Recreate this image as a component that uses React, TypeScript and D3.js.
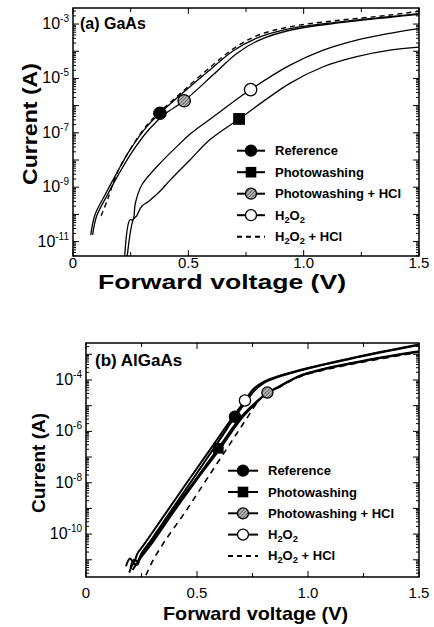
import { useEffect, useRef } from "react";
import * as d3 from "d3";

// points are [forward voltage (V), log10 of current (A)]
const gaasReference = [[0.077, -10.76], [0.095, -10.02], [0.139, -9.28], [0.189, -8.49], [0.247, -7.63], [0.319, -6.78], [0.377, -6.28], [0.464, -5.62], [0.594, -4.68], [0.695, -3.98], [0.796, -3.52], [0.94, -3.17], [1.157, -2.92], [1.374, -2.73], [1.5, -2.62]];
const gaasPhotowashing = [[0.233, -11.7], [0.262, -10.18], [0.276, -10.05], [0.298, -9.7], [0.327, -9.53], [0.377, -9.15], [0.42, -8.75], [0.507, -8.0], [0.594, -7.25], [0.72, -6.49], [0.94, -5.18], [1.085, -4.57], [1.23, -4.2], [1.374, -3.96], [1.5, -3.85]];
const gaasPhotowashingHCl = [[0.085, -10.75], [0.103, -10.05], [0.148, -9.3], [0.198, -8.52], [0.258, -7.68], [0.332, -6.85], [0.4, -6.3], [0.482, -5.82], [0.61, -4.85], [0.71, -4.08], [0.81, -3.58], [0.95, -3.21], [1.16, -2.95], [1.374, -2.75], [1.5, -2.64]];
const gaasH2O2 = [[0.223, -11.7], [0.247, -10.2], [0.26, -10.2], [0.27, -9.6], [0.298, -8.92], [0.363, -8.25], [0.464, -7.39], [0.507, -7.05], [0.594, -6.5], [0.77, -5.41], [0.941, -4.51], [1.085, -3.96], [1.23, -3.59], [1.374, -3.34], [1.5, -3.17]];
const gaasH2O2HCl = [[0.122, -10.05], [0.15, -9.45], [0.19, -8.5], [0.25, -7.58], [0.32, -6.72], [0.38, -6.2], [0.47, -5.52], [0.6, -4.55], [0.7, -3.88], [0.8, -3.42], [0.94, -3.1], [1.157, -2.86], [1.374, -2.67], [1.5, -2.53]];
// one symbol on each curve
const gaasMarkers = [[0.377, -6.28], [0.72, -6.49], [0.482, -5.82], [0.77, -5.41]];

const algaasReference = [[0.2, -11.35], [0.215, -11.0], [0.232, -11.05], [0.25, -10.75], [0.3, -10.15], [0.4, -8.88], [0.5, -7.62], [0.6, -6.35], [0.671, -5.43], [0.72, -4.85], [0.76, -4.4], [0.8, -4.12], [0.86, -3.9], [0.964, -3.63], [1.189, -3.18], [1.5, -2.64]];
const algaasPhotowashing = [[0.195, -11.5], [0.215, -11.15], [0.23, -11.2], [0.25, -10.8], [0.3, -10.22], [0.4, -8.97], [0.5, -7.8], [0.596, -6.66], [0.7, -5.42], [0.78, -4.75], [0.817, -4.52], [0.86, -4.32], [0.964, -3.85], [1.189, -3.37], [1.5, -2.9]];
const algaasPhotowashingHCl = [[0.21, -11.4], [0.24, -11.0], [0.3, -10.32], [0.4, -9.07], [0.5, -7.87], [0.6, -6.72], [0.7, -5.5], [0.78, -4.78], [0.817, -4.49], [0.86, -4.3], [0.964, -3.83], [1.189, -3.35], [1.5, -2.88]];
const algaasH2O2 = [[0.18, -11.25], [0.198, -10.95], [0.215, -11.1], [0.232, -10.75], [0.26, -10.42], [0.35, -9.3], [0.45, -8.05], [0.55, -6.82], [0.65, -5.58], [0.716, -4.8], [0.754, -4.35], [0.8, -4.07], [0.859, -3.87], [0.964, -3.61], [1.189, -3.16], [1.5, -2.62]];
const algaasH2O2HCl = [[0.27, -11.6], [0.3, -11.05], [0.353, -10.3], [0.45, -9.1], [0.55, -7.78], [0.65, -6.47], [0.72, -5.55], [0.784, -4.75], [0.83, -4.45], [0.86, -4.33], [0.964, -3.87], [1.189, -3.4], [1.5, -2.92]];
const algaasMarkers = [[0.671, -5.43], [0.596, -6.66], [0.817, -4.49], [0.716, -4.8]];

const seriesNames = ["Reference", "Photowashing", "Photowashing + HCl", "H2O2", "H2O2 + HCl"];
const symbolKinds = ["filled", "square", "hatched", "open", "dash"];
const xTickValues = [0, 0.5, 1.0, 1.5];
const xTickLabels = ["0", "0.5", "1.0", "1.5"];
const gaasYTicks = [-3, -5, -7, -9, -11];
const algaasYTicks = [-4, -6, -8, -10];

const FONT = "'Liberation Sans', Arial, Helvetica, sans-serif";

function addName(text, name, size) {
    // H2O2 gets subscript 2s
    let lowered = false;
    name.split(/(2)/).forEach((p) => {
        if (p === "") return;
        if (p === "2") {
            text.append("tspan").attr("font-size", size * 0.72).attr("dy", lowered ? 0 : 3).text("2");
            lowered = true;
        } else {
            text.append("tspan").attr("dy", lowered ? -3 : 0).text(p);
            lowered = false;
        }
    });
}

function drawSymbol(g, kind, x, y, r) {
    if (kind === "square") {
        g.append("rect").attr("x", x - r).attr("y", y - r).attr("width", 2 * r).attr("height", 2 * r)
            .attr("fill", "#000");
    } else if (kind !== "dash") {
        g.append("circle").attr("cx", x).attr("cy", y).attr("r", r)
            .attr("fill", kind === "filled" ? "#000" : kind === "hatched" ? "url(#hatch)" : "#fff")
            .attr("stroke", "#000").attr("stroke-width", 1.3);
    }
}

function drawPanel(svg, p) {
    const x = d3.scaleLinear().domain([0, 1.5]).range([p.left, p.right]);
    const y = d3.scaleLog().domain([Math.pow(10, p.yMin), Math.pow(10, p.yMax)]).range([p.bottom, p.top]);
    const g = svg.append("g");

    const clipId = "clip-" + p.id;
    g.append("clipPath").attr("id", clipId).append("rect")
        .attr("x", p.left).attr("y", p.top).attr("width", p.right - p.left).attr("height", p.bottom - p.top);

    // ticks on all four sides, pointing in
    const tk = g.append("g").attr("stroke", "#000").attr("stroke-width", 1);
    for (let e = Math.floor(p.yMin); e <= Math.ceil(p.yMax); e++) {
        for (let m = 1; m <= 9; m++) {
            const v = m * Math.pow(10, e);
            if (v < Math.pow(10, p.yMin) || v > Math.pow(10, p.yMax)) continue;
            const len = m === 1 ? 6 : 3;
            const yy = y(v);
            tk.append("line").attr("x1", p.left).attr("x2", p.left + len).attr("y1", yy).attr("y2", yy);
            tk.append("line").attr("x1", p.right).attr("x2", p.right - len).attr("y1", yy).attr("y2", yy);
        }
    }
    d3.range(0, 1.51, 0.25).forEach((v) => {
        const len = Math.abs(v * 2 - Math.round(v * 2)) < 1e-6 ? 6 : 4;
        tk.append("line").attr("x1", x(v)).attr("x2", x(v)).attr("y1", p.bottom).attr("y2", p.bottom - len);
        tk.append("line").attr("x1", x(v)).attr("x2", x(v)).attr("y1", p.top).attr("y2", p.top + len);
    });

    g.append("rect").attr("x", p.left).attr("y", p.top).attr("width", p.right - p.left).attr("height", p.bottom - p.top)
        .attr("fill", "none").attr("stroke", "#000").attr("stroke-width", 1.5);

    // tick labels
    xTickValues.forEach((v, i) => {
        g.append("text").attr("x", x(v)).attr("y", p.bottom + p.xTickDy).attr("text-anchor", "middle")
            .attr("font-family", FONT).attr("font-size", 15).text(xTickLabels[i]);
    });
    p.yTicks.forEach((e) => {
        const t = g.append("text").attr("x", p.left - 4).attr("y", y(Math.pow(10, e)) + 5)
            .attr("text-anchor", "end").attr("font-family", FONT).attr("font-size", 16);
        t.append("tspan").text("10");
        t.append("tspan").attr("font-size", 10).attr("dy", -7).text(String(e));
    });

    // axis titles
    g.append("text").attr("x", (p.left + p.right) / 2 + p.xTitleShift).attr("y", p.xTitleY).attr("text-anchor", "middle")
        .attr("font-family", FONT).attr("font-weight", "bold").attr("font-size", p.titleSize)
        .attr("textLength", p.xTitleLen).attr("lengthAdjust", "spacingAndGlyphs").text("Forward voltage (V)");
    g.append("text").attr("transform", `translate(${p.yTitleX},${p.yTitleMid}) rotate(-90)`).attr("text-anchor", "middle")
        .attr("font-family", FONT).attr("font-weight", "bold").attr("font-size", p.titleSize)
        .attr("textLength", p.yTitleLen).attr("lengthAdjust", "spacingAndGlyphs").text("Current (A)");

    g.append("text").attr("x", p.left + p.tagDx).attr("y", p.top + p.tagDy)
        .attr("font-family", FONT).attr("font-weight", "bold").attr("font-size", p.tagSize).text(p.tag);

    // curves
    const line = d3.line().x((d) => x(d[0])).y((d) => y(Math.pow(10, d[1]))).curve(d3.curveCatmullRom.alpha(0.5));
    const curves = g.append("g").attr("clip-path", `url(#${clipId})`);
    p.series.forEach((s, i) => {
        curves.append("path").attr("d", line(s)).attr("fill", "none").attr("stroke", "#000")
            .attr("stroke-width", i === 4 ? p.dashWidth : p.lineWidth)
            .attr("stroke-dasharray", i === 4 ? p.dash : null);
    });
    p.markers.forEach((m, i) => {
        const r = symbolKinds[i] === "square" ? p.markerR * 0.95 : p.markerR;
        drawSymbol(curves, symbolKinds[i], x(m[0]), y(Math.pow(10, m[1])), r);
    });

    // legend
    const lg = g.append("g");
    seriesNames.forEach((name, i) => {
        const cy = p.legendY + i * p.legendStep;
        lg.append("line").attr("x1", p.legendX).attr("x2", p.legendX + p.legendLen).attr("y1", cy).attr("y2", cy)
            .attr("stroke", "#000").attr("stroke-width", 2)
            .attr("stroke-dasharray", symbolKinds[i] === "dash" ? "5,4" : null);
        drawSymbol(lg, symbolKinds[i], p.legendX + p.legendLen / 2, cy, symbolKinds[i] === "square" ? 5.3 : 5.5);
        const t = lg.append("text").attr("x", p.legendX + p.legendLen + 10).attr("y", cy + 4.5)
            .attr("font-family", FONT).attr("font-weight", "bold").attr("font-size", 13);
        addName(t, name, 13);
    });
}

export default function App() {
    const ref = useRef(null);

    useEffect(() => {
        const svg = d3.select(ref.current);
        svg.selectAll("*").remove();

        const defs = svg.append("defs");
        const pat = defs.append("pattern").attr("id", "hatch").attr("patternUnits", "userSpaceOnUse")
            .attr("width", 2.5).attr("height", 2.5).attr("patternTransform", "rotate(45)");
        pat.append("rect").attr("width", 2.5).attr("height", 2.5).attr("fill", "#b0b0b0");
        pat.append("line").attr("x1", 0).attr("x2", 0).attr("y1", 0).attr("y2", 2.5)
            .attr("stroke", "#333").attr("stroke-width", 1);

        drawPanel(svg, {
            id: "a", tag: "(a) GaAs", left: 73, right: 419, top: 8, bottom: 256,
            yMin: -11.53, yMax: -2.41, yTicks: gaasYTicks,
            series: [gaasReference, gaasPhotowashing, gaasPhotowashingHCl, gaasH2O2, gaasH2O2HCl],
            markers: gaasMarkers, markerR: 6.2, lineWidth: 1.3, dashWidth: 1.4, dash: "5,4",
            xTickDy: 12, xTitleY: 289, xTitleShift: -24, xTitleLen: 248, titleSize: 21,
            yTitleX: 37, yTitleMid: 124, yTitleLen: 122,
            tagDx: 7, tagDy: 21, tagSize: 16,
            legendX: 237, legendLen: 28, legendY: 150.7, legendStep: 21.5,
        });
        drawPanel(svg, {
            id: "b", tag: "(b) AlGaAs", left: 86, right: 419, top: 343, bottom: 577,
            yMin: -11.67, yMax: -2.56, yTicks: algaasYTicks,
            series: [algaasReference, algaasPhotowashing, algaasPhotowashingHCl, algaasH2O2, algaasH2O2HCl],
            markers: algaasMarkers, markerR: 5.6, lineWidth: 2, dashWidth: 1.6, dash: "6,5",
            xTickDy: 21, xTitleY: 620, xTitleShift: 3, xTitleLen: 185, titleSize: 19,
            yTitleX: 45, yTitleMid: 463, yTitleLen: 100,
            tagDx: 9, tagDy: 23, tagSize: 17,
            legendX: 228, legendLen: 30, legendY: 470.7, legendStep: 21.3,
        });
    }, []);

    return (
        <svg ref={ref} width={434} height={627}
            style={{ position: "absolute", left: 0, top: 0, background: "#fff" }} />
    );
}
